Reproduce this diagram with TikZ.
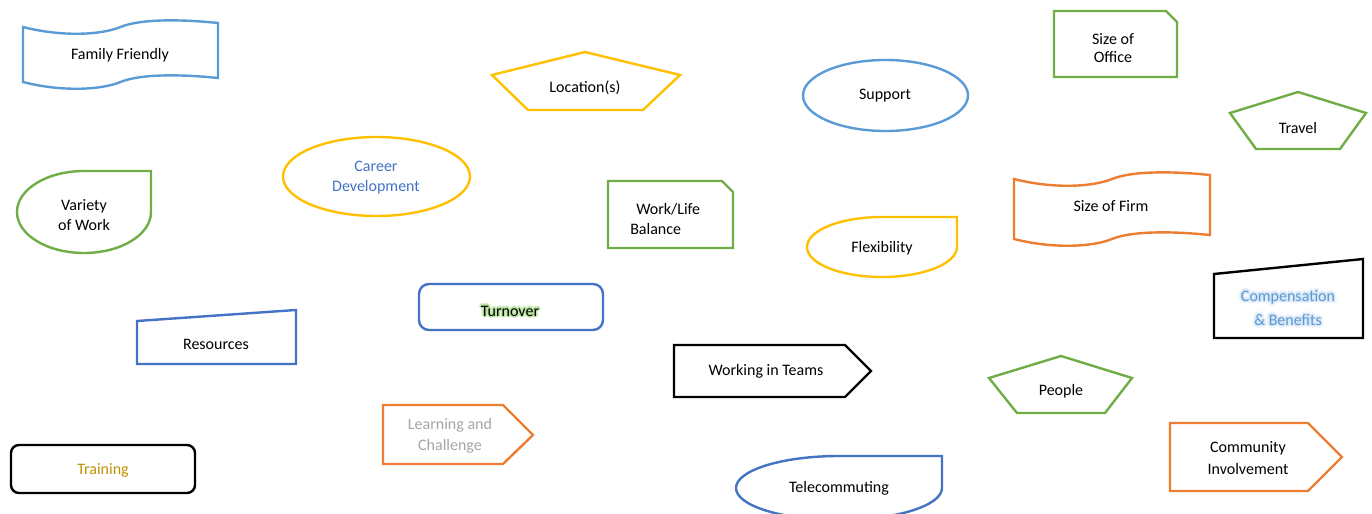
\documentclass[tikz,border=0pt]{standalone}
\usepackage{fontspec}
\setmainfont{Carlito}

\definecolor{bluelt}{HTML}{5B9BD5}
\definecolor{bluedk}{HTML}{4472C4}
\definecolor{ygold}{HTML}{FFC000}
\definecolor{lgreen}{HTML}{70AD47}
\definecolor{orng}{HTML}{ED7D31}
\definecolor{txtgold}{HTML}{BF8F00}
\definecolor{txtgray}{HTML}{A5A5A5}
\definecolor{glowgreenA}{HTML}{E2F3D6}
\definecolor{glowgreenB}{HTML}{B9E2A0}
\definecolor{glowblueA}{HTML}{EEF4FB}
\definecolor{glowblueB}{HTML}{D9E7F6}

% one offset copy of a text, used to build a soft halo
\newcommand\halocopy[3]{\rlap{\kern#1pt\raisebox{#2pt}{#3}}}
% text with a halo: outer colour, inner colour, text colour, text
\newcommand\glowtext[4]{\leavevmode
  \rlap{\color{#1}%
    \halocopy{2}{0}{#4}\halocopy{-2}{0}{#4}\halocopy{0}{2}{#4}\halocopy{0}{-2}{#4}%
    \halocopy{1.4}{1.4}{#4}\halocopy{-1.4}{1.4}{#4}\halocopy{1.4}{-1.4}{#4}\halocopy{-1.4}{-1.4}{#4}}%
  \rlap{\color{#2}%
    \halocopy{1}{0}{#4}\halocopy{-1}{0}{#4}\halocopy{0}{1}{#4}\halocopy{0}{-1}{#4}%
    \halocopy{0.7}{0.7}{#4}\halocopy{-0.7}{0.7}{#4}\halocopy{0.7}{-0.7}{#4}\halocopy{-0.7}{-0.7}{#4}}%
  {\color{#3}#4}}

% punched-tape (wave) outline: style, left x, top-left y, width, left height
\newcommand\waveshape[5]{%
  \draw[#1] (#2,#3) .. controls ({#2+0.2*#4},{#3+10}) and ({#2+0.4*#4},{#3+8}) .. ({#2+0.5*#4},#3)
    .. controls ({#2+0.6*#4},{#3-8}) and ({#2+0.8*#4},{#3-8}) .. ({#2+#4},{#3-4})
    -- ({#2+#4},{#3-4+#5})
    .. controls ({#2+0.8*#4},{#3+#5-8}) and ({#2+0.6*#4},{#3+#5-8}) .. ({#2+0.5*#4},{#3+#5})
    .. controls ({#2+0.4*#4},{#3+#5+8}) and ({#2+0.2*#4},{#3+#5+10}) .. (#2,{#3+#5}) -- cycle;}

% teardrop outline: style, centre x, centre y, x radius, y radius
\newcommand\teardropshape[5]{%
  \draw[#1] ({#2+#4},{#3-#5}) -- ({#2+#4},#3)
    arc[start angle=0,end angle=180,x radius=#4,y radius=#5]
    arc[start angle=180,end angle=270,x radius=#4,y radius=#5] -- cycle;}

\begin{document}
\begin{tikzpicture}[x=0.75pt,y=-0.75pt,
  outline/.style={line width=1.8pt},
  lbl/.style={font=\fontsize{12}{14}\selectfont, align=center, inner sep=0pt, text=black}]
\useasboundingbox (0,0) rectangle (1372,514);
\clip (0,0) rectangle (1372,514);

% --- wave shapes
\waveshape{outline,draw=bluelt}{23}{27}{195}{55}
\node[lbl] (family) at (120,55) {Family Friendly};
\waveshape{outline,draw=orng}{1014}{179}{196}{60}
\node[lbl] (firm) at (1111,206) {Size of Firm};

% --- pentagons
\draw[outline,draw=ygold] (585,52) -- (680,75) -- (643,110) -- (528,110) -- (492,75) -- cycle;
\node[lbl] (location) at (585,88) {Location(s)};
\draw[outline,draw=lgreen] (1298,92) -- (1366,113) -- (1340,149) -- (1256,149) -- (1230,113) -- cycle;
\node[lbl] (travel) at (1298,128) {Travel};
\draw[outline,draw=lgreen] (1061,356) -- (1132,378) -- (1105,413) -- (1017,413) -- (989,378) -- cycle;
\node[lbl] (people) at (1061,391) {People};

% --- ellipses
\draw[outline,draw=bluelt] (885.5,95.5) ellipse[x radius=82.5,y radius=35.5];
\node[lbl] (support) at (885,96) {Support};
\draw[outline,draw=ygold] (376.5,176.5) ellipse[x radius=93.5,y radius=39.5];
\node[lbl,text=bluedk] (career) at (376,178) {Career\\[1pt]Development};

% --- snipped rectangles
\draw[outline,draw=lgreen] (1054,11) -- (1166,11) -- (1177,22) -- (1177,77) -- (1054,77) -- cycle;
\node[lbl] (office) at (1113,48) {Size of\\Office};
\draw[outline,draw=lgreen] (608,181) -- (722,181) -- (733,192) -- (733,248) -- (608,248) -- cycle;
\node[lbl,align=left,anchor=west] (worklife) at (630,219) {\hspace*{4.5pt}Work/Life\\[1pt]Balance};

% --- teardrops
\teardropshape{outline,draw=lgreen}{84}{212}{67}{41}
\node[lbl] (variety) at (84,215) {Variety\\[1pt]of Work};
\teardropshape{outline,draw=ygold}{882}{247}{75}{30}
\node[lbl] (flex) at (882,248) {Flexibility};
\teardropshape{outline,draw=bluedk}{839}{488}{103}{32}
\node[lbl] (tele) at (839,488) {Telecommuting};

% --- manual-input quadrilaterals
\draw[outline,draw=bluedk] (137,321) -- (296,310) -- (296,364) -- (137,364) -- cycle;
\node[lbl] (resources) at (216,344) {Resources};
\draw[outline,draw=black] (1214,274) -- (1363,259) -- (1363,338) -- (1214,338) -- cycle;
\node[lbl] (comp) at (1288,308) {\glowtext{glowblueA}{glowblueB}{bluelt}{Compensation}\\[3pt]
  \glowtext{glowblueA}{glowblueB}{bluelt}{\& Benefits}};

% --- rounded rectangles
\draw[outline,draw=bluedk,rounded corners=7.5pt] (419,284) rectangle (603,330);
\node[lbl] (turnover) at (510,311) {\glowtext{glowgreenA}{glowgreenB}{black}{Turnover}};
\draw[outline,draw=black,rounded corners=6pt] (11,445) rectangle (195,493);
\node[lbl,text=txtgold] (training) at (103,470) {Training};

% --- pointed (home plate) shapes
\draw[outline,draw=black] (674,345) -- (845,345) -- (871,371) -- (845,397) -- (674,397) -- cycle;
\node[lbl] (teams) at (766,371) {Working in Teams};
\draw[outline,draw=orng] (383,405) -- (503,405) -- (533,435) -- (503,464) -- (383,464) -- cycle;
\node[lbl,text=txtgray] (learning) at (450,436) {Learning and\\[1.5pt]Challenge};
\draw[outline,draw=orng] (1170,423) -- (1308,423) -- (1342,457) -- (1308,491) -- (1170,491) -- cycle;
\node[lbl] (community) at (1248,458) {Community\\[3pt]Involvement};
\end{tikzpicture}
\end{document}
